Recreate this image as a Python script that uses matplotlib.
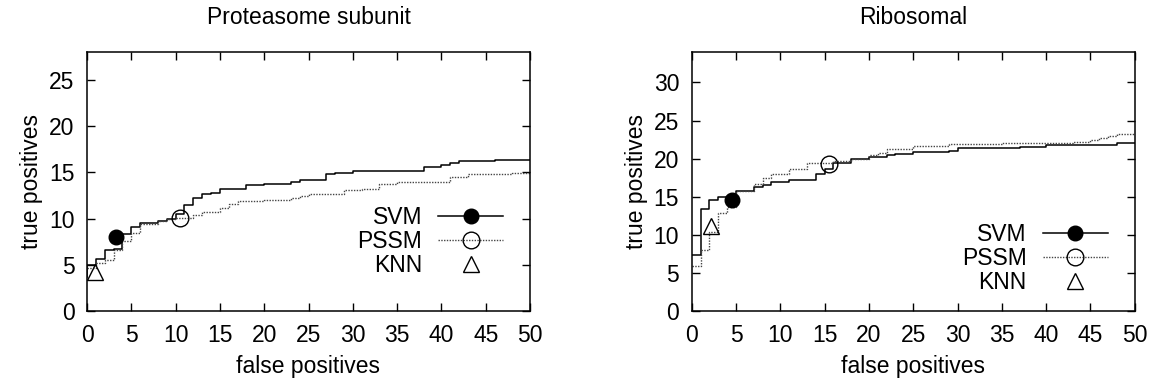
import matplotlib
matplotlib.use("Agg")
import matplotlib.pyplot as plt
from matplotlib.lines import Line2D

plt.rcParams['font.family'] = ['Liberation Sans', 'DejaVu Sans']
plt.rcParams['font.size'] = 16.5

# Proteasome subunit: ROC-style step curves (false positives -> true positives)
svm1_x = [0, 0, 1, 2, 3, 4, 5, 6, 8, 9, 10, 11, 12, 13, 14, 15, 18, 20, 23, 24, 27, 28, 30, 38, 40, 41, 42, 46, 50]
svm1_y = [3.7, 4.96, 5.57, 6.57, 6.75, 8.37, 9.09, 9.52, 9.75, 10.0, 10.5, 11.42, 12.2, 12.6, 12.77, 13.15,
          13.58, 13.76, 13.94, 14.12, 14.76, 14.94, 15.15, 15.55, 15.8, 16.02, 16.17, 16.37, 16.37]
pssm1_x = [0, 1, 2, 3, 4, 5, 6, 8, 9, 10, 12, 13, 15, 16, 17, 20, 23, 24, 25, 29, 31, 33, 35, 41, 43, 48, 50]
pssm1_y = [4.6, 5.2, 5.5, 6.6, 7.55, 8.4, 9.4, 9.7, 9.95, 10.1, 10.35, 10.7, 11.1, 11.6, 11.85, 11.96,
           12.21, 12.43, 12.6, 13.04, 13.22, 13.76, 13.94, 14.54, 14.76, 14.94, 14.94]
svm1_pt = (3.26, 7.95)
pssm1_pt = (10.45, 10.07)
knn1_pt = (0.9, 4.2)

# Ribosomal
svm2_x = [0, 1, 2, 3, 5, 7, 8, 9, 11, 14, 15, 16, 18, 20, 22, 23, 25, 29, 30, 37, 40, 48, 50]
svm2_y = [7.35, 13.37, 14.57, 15.0, 15.77, 16.3, 16.6, 16.9, 17.2, 17.95, 18.6, 19.38, 19.95, 20.25,
          20.47, 20.65, 20.82, 21.0, 21.35, 21.57, 21.78, 22.0, 22.0]
pssm2_x = [0, 1, 2, 3, 4, 5, 7, 8, 9, 11, 13, 16, 18, 20, 21, 22, 25, 29, 35, 43, 45, 46, 47, 48, 50]
pssm2_y = [5.9, 8.0, 10.4, 12.8, 13.6, 15.7, 16.7, 17.4, 18.0, 18.7, 19.4, 19.75, 20.0, 20.45, 20.8,
           21.25, 21.65, 21.87, 22.05, 22.25, 22.45, 22.75, 23.0, 23.2, 23.2]
svm2_pt = (4.54, 14.57)
pssm2_pt = (15.55, 19.25)
knn2_pt = (2.18, 11.15)

titles = ["Proteasome subunit", "Ribosomal"]
ylims = [28, 34]
legend_anchor = [(0.94, 0.405), (0.94, 0.34)]

svm_style = dict(color='black', lw=1.1, ls='-')
pssm_style = dict(color='#444444', lw=1.0, ls=(0, (1, 1)))

fig = plt.figure(figsize=(11.51, 3.87), dpi=100)
ax1 = fig.add_axes([87 / 1151, 1 - 311 / 387, 443 / 1151, 259 / 387])
ax2 = fig.add_axes([691.7 / 1151, 1 - 311 / 387, 443 / 1151, 259 / 387])

panels = [
    (ax1, svm1_x, svm1_y, pssm1_x, pssm1_y, svm1_pt, pssm1_pt, knn1_pt),
    (ax2, svm2_x, svm2_y, pssm2_x, pssm2_y, svm2_pt, pssm2_pt, knn2_pt),
]

for i, (ax, sx, sy, px, py, sp, pp, kp) in enumerate(panels):
    ax.plot(sx, sy, drawstyle='steps-post', **svm_style)
    ax.plot(px, py, drawstyle='steps-post', **pssm_style)
    ax.plot([sp[0]], [sp[1]], 'o', color='black', ms=10.5)
    ax.plot([pp[0]], [pp[1]], 'o', mfc='none', mec='black', mew=1.0, ms=12)
    ax.plot([kp[0]], [kp[1]], '^', mfc='none', mec='black', mew=1.0, ms=12)

    ax.set_xlim(0, 50)
    ax.set_ylim(0, ylims[i])
    ax.set_xticks(range(0, 51, 5))
    ax.set_yticks(range(0, ylims[i], 5))
    ax.tick_params(direction='in', length=6, width=1, top=True, right=True, pad=9)
    for s in ax.spines.values():
        s.set_linewidth(1.1)
    ax.set_title(titles[i], fontsize=16.5, pad=20)
    ax.set_xlabel("false positives", labelpad=6)
    ax.set_ylabel("true positives", labelpad=4)

    handles = [
        Line2D([], [], marker='o', color='black', ms=10.5, **{k: v for k, v in svm_style.items() if k != 'color'}),
        Line2D([], [], marker='o', mfc='none', mec='black', ms=12, **pssm_style),
        Line2D([], [], marker='^', mfc='none', mec='black', ms=12, ls='none'),
    ]
    ax.legend(handles, ["SVM", "PSSM", "KNN"], loc='upper right', bbox_to_anchor=legend_anchor[i],
              frameon=False, markerfirst=False, numpoints=1, handlelength=2.85,
              handletextpad=0.7, labelspacing=0.05, borderpad=0, borderaxespad=0)

fig.savefig("out.png", dpi=100)
